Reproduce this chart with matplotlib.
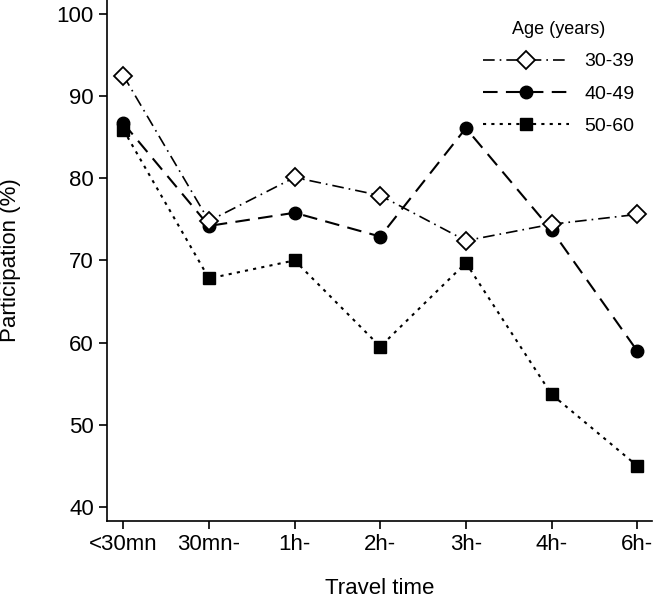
import numpy as np
import matplotlib.pyplot as plt

plt.rcParams['font.family'] = ['Liberation Sans', 'DejaVu Sans']

travel = ["<30mn", "30mn-", "1h-", "2h-", "3h-", "4h-", "6h-"]
age_30_39 = [92.5, 74.8, 80.1, 77.9, 72.4, 74.4, 75.6]
age_40_49 = [86.7, 74.2, 75.8, 72.9, 86.1, 73.7, 59.0]
age_50_60 = [85.9, 67.8, 70.0, 59.5, 69.7, 53.7, 45.0]

x = np.arange(len(travel))

fig = plt.figure(figsize=(6.53, 6.0), dpi=100)
ax = fig.add_axes([0.164, 0.132, 0.834, 0.868])

l3, = ax.plot(x, age_50_60, color='black', lw=1.5, ls=(0, (1.5, 2.5)),
              marker='s', ms=9, mfc='black', mec='black', label='50-60')
l2, = ax.plot(x, age_40_49, color='black', lw=1.5, ls=(0, (7, 4)),
              marker='o', ms=9, mfc='black', mec='black', label='40-49')
l1, = ax.plot(x, age_30_39, color='black', lw=1.2, ls=(0, (7, 3, 1, 3)),
              marker='D', ms=9, mfc='white', mec='black', mew=1.3, label='30-39')

ax.set_xlim(-0.19, 6.17)
ax.set_ylim(38.3, 101.7)
ax.set_yticks([40, 50, 60, 70, 80, 90, 100])
ax.set_xticks(x)
ax.set_xticklabels(travel)
ax.tick_params(labelsize=16, length=6, width=1.2, direction='out')
for s in ['top', 'right']:
    ax.spines[s].set_visible(False)
for s in ['left', 'bottom']:
    ax.spines[s].set_linewidth(1.2)

ax.set_xlabel("Travel time", fontsize=16, va='top')
ax.xaxis.set_label_coords(0.5, -0.11)
ax.set_ylabel("Participation (%)", fontsize=16)
ax.yaxis.set_label_coords(-0.158, 0.5)

leg = ax.legend(handles=[l1, l2, l3], title="Age (years)", loc='upper right',
                bbox_to_anchor=(1.0, 0.993), frameon=False, fontsize=14,
                title_fontsize=13, handlelength=4.4, labelspacing=0.75,
                handletextpad=0.8)

fig.savefig("out.png", dpi=100)
